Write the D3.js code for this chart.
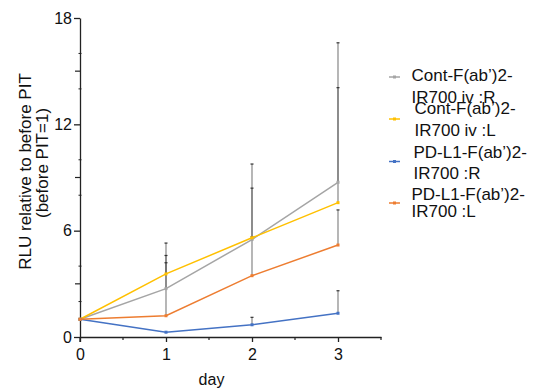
<!DOCTYPE html>
<html>
<head>
<meta charset="utf-8">
<script src="https://cdn.jsdelivr.net/npm/d3@7"></script>
<style>
  body { margin: 0; background: #fff; }
  text { font-family: "Liberation Sans", Arial, sans-serif; fill: #111; }
</style>
</head>
<body>
<svg width="534" height="391"></svg>
<script>
const days = [0, 1, 2, 3];
const seriesNames = [
  ["Cont-F(ab’)2-", "IR700 iv :R"],
  ["Cont-F(ab’)2-", "IR700 iv :L"],
  ["PD-L1-F(ab’)2-", "IR700 :R"],
  ["PD-L1-F(ab’)2-", "IR700 :L"]
];
const colors = ["#a5a5a5", "#ffc000", "#4472c4", "#ed7d31"];
const contR = [1.0, 2.73, 5.5, 8.73];
const contL = [1.0, 3.56, 5.6, 7.58];
const pdR = [1.0, 0.27, 0.69, 1.34];
const pdL = [1.0, 1.2, 3.46, 5.19];
// upper end of error bars
const contRTop = [1.0, 5.3, 9.76, 16.6];
const contLTop = [1.0, 4.6, 8.4, 14.07];
const pdRTop = [1.0, 0.27, 1.11, 2.61];
const pdLTop = [1.0, 4.19, 5.65, 7.17];
const yTicks = [0, 6, 12, 18];

const values = [contR, contL, pdR, pdL];
const tops = [contRTop, contLTop, pdRTop, pdLTop];

const svg = d3.select("svg");
const x = d3.scaleLinear().domain([0, 3.5]).range([80, 381]);
const y = d3.scaleLinear().domain([0, 18]).range([337, 18]);

// axes
const gx = svg.append("g").attr("transform", `translate(0,${y(0)})`)
  .call(d3.axisBottom(x).tickValues(days).tickFormat(d3.format("d")).tickSize(5).tickSizeOuter(0));
const gy = svg.append("g").attr("transform", `translate(${x(0)},0)`)
  .call(d3.axisLeft(y).tickValues(yTicks).tickSize(6).tickSizeOuter(0));
[gx, gy].forEach(g => {
  g.select(".domain").attr("stroke", "#222").attr("stroke-width", 1.3);
  g.selectAll(".tick line").attr("stroke", "#222").attr("stroke-width", 1.3);
  g.selectAll(".tick text").style("font-size", "16px").attr("fill", "#111")
    .style("font-family", "Liberation Sans, Arial, sans-serif");
});
gx.selectAll(".tick text").attr("dy", "0.95em");
gy.selectAll(".tick text").attr("x", -8);

// minor ticks
svg.append("g").selectAll("line").data([0.5, 1.5, 2.5, 3.5]).join("line")
  .attr("x1", d => x(d)).attr("x2", d => x(d))
  .attr("y1", y(0)).attr("y2", y(0) + 3)
  .attr("stroke", "#222").attr("stroke-width", 1.2);
svg.append("g").selectAll("line").data([3, 9, 15]).join("line")
  .attr("x1", x(0) - 5).attr("x2", x(0))
  .attr("y1", d => y(d)).attr("y2", d => y(d))
  .attr("stroke", "#222").attr("stroke-width", 1.2);
svg.append("g").selectAll("line").data([2, 4, 8, 10, 14, 16]).join("line")
  .attr("x1", x(0) - 1.5).attr("x2", x(0) + 1.5)
  .attr("y1", d => y(d)).attr("y2", d => y(d))
  .attr("stroke", "#222").attr("stroke-width", 1);
svg.append("line").attr("x1", x(0)).attr("x2", x(0))
  .attr("y1", y(0)).attr("y2", y(0) + 5).attr("stroke", "#222").attr("stroke-width", 1.3);

// error bars
values.forEach((vals, i) => {
  const g = svg.append("g");
  days.forEach((d, j) => {
    if (tops[i][j] <= vals[j]) return;
    g.append("line")
      .attr("x1", x(d)).attr("x2", x(d))
      .attr("y1", y(vals[j])).attr("y2", y(tops[i][j]))
      .attr("stroke", "#555").attr("stroke-opacity", 0.65).attr("stroke-width", 1.3);
    g.append("line")
      .attr("x1", x(d) - 1.5).attr("x2", x(d) + 1.5)
      .attr("y1", y(tops[i][j])).attr("y2", y(tops[i][j]))
      .attr("stroke", "#333").attr("stroke-width", 1.2);
  });
});

// lines
const line = d3.line().x((d, j) => x(days[j])).y(d => y(d));
values.forEach((vals, i) => {
  svg.append("path").datum(vals)
    .attr("d", line).attr("fill", "none")
    .attr("stroke", colors[i]).attr("stroke-width", 1.5);
  svg.append("g").selectAll("rect").data(vals).join("rect")
    .attr("x", (d, j) => x(days[j]) - 1.5).attr("y", d => y(d) - 1.5)
    .attr("width", 3).attr("height", 3).attr("fill", colors[i]);
});

// axis titles
svg.append("text")
  .attr("transform", "translate(31,171.5) rotate(-90)")
  .attr("text-anchor", "middle").style("font-size", "17px")
  .text("RLU relative to before PIT");
svg.append("text")
  .attr("transform", "translate(48,163) rotate(-90)")
  .attr("text-anchor", "middle").style("font-size", "17px")
  .text("(before PIT=1)");
svg.append("text")
  .attr("x", 211.5).attr("y", 385)
  .attr("text-anchor", "middle").style("font-size", "16px")
  .text("day");

// legend
const legY = [77, 119, 161.5, 203];
const legText = [[75, 97], [108, 130], [152, 173], [194, 211]];
const legX = [411.5, 414.5, 413.5, 411.5];
seriesNames.forEach((nm, i) => {
  const g = svg.append("g");
  g.append("line").attr("x1", 389).attr("x2", 400)
    .attr("y1", legY[i]).attr("y2", legY[i])
    .attr("stroke", colors[i]).attr("stroke-width", 1.5);
  g.append("rect").attr("x", 393).attr("y", legY[i] - 1.5)
    .attr("width", 3).attr("height", 3).attr("fill", colors[i]);
  nm.forEach((t, k) => {
    g.append("text").attr("x", legX[i]).attr("y", legText[i][k] + 6)
      .style("font-size", "17px").text(t);
  });
});
</script>
</body>
</html>
